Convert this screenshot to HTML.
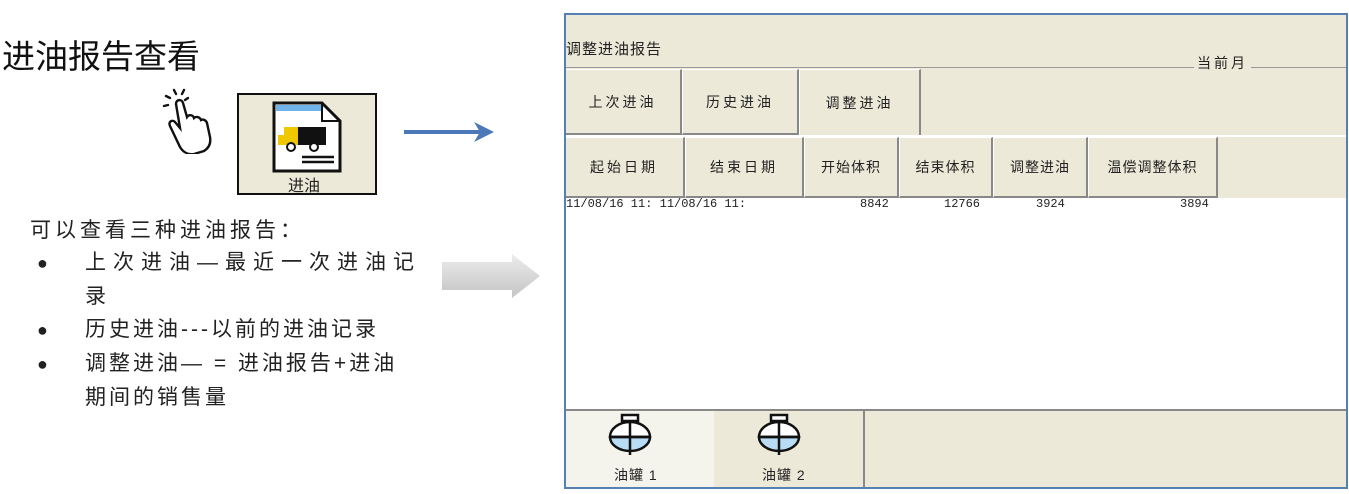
<!DOCTYPE html>
<html><head><meta charset="utf-8"><style>
body{margin:0;width:1349px;height:494px;background:#fff;position:relative;overflow:hidden;font-family:"Liberation Sans","Noto Sans CJK SC",sans-serif;}
.a{position:absolute;white-space:nowrap}
.scr{position:absolute;left:564px;top:13px;width:780px;height:472px;border:2px solid #5580b3;background:#ece9d8;overflow:hidden}
.btn{position:absolute;background:#ece9d8;border-left:1px solid #fff;border-top:1px solid #fff;border-right:2px solid #888;border-bottom:2px solid #888;box-sizing:border-box;font-size:14px;letter-spacing:3px;color:#222;display:flex;align-items:center;justify-content:center;font-family:"Liberation Sans","Noto Sans CJK SC",sans-serif}
.mono{font-family:"Liberation Mono",monospace;font-size:12px;color:#222}
.t{font-size:14px;color:#222;letter-spacing:1px}
</style></head><body>
<div class="a" style="left:2px;top:30px;font-size:33px;color:#111">进油报告查看</div>
<svg class="a" style="left:160px;top:86px" width="52" height="68" viewBox="0 0 52 68">
<g stroke="#111" stroke-width="2.4" fill="none" stroke-linecap="round">
<path d="M14 4l2 4M6 10l4 2M24 4l-2 4M4 20l4-1M28 12l-3 2"/>
<path d="M16 18c0-5 6-5 7-1l4 14c2-3 6-2 7 1 2-2 6-1 7 2 2-1 5 0 6 3l3 14c1 6-1 11-6 14l-10 3c-6 1-11-2-14-7L10 40c-2-4 2-7 5-4l5 6z"/>
</g></svg>
<div class="a" style="left:237px;top:93px;width:136px;height:98px;border:2px solid #111;background:#ece9d8"></div>
<svg class="a" style="left:272px;top:101px" width="70" height="72" viewBox="0 0 70 72">
<path d="M2 2h48l18 18v50H2z" fill="#fff" stroke="#111" stroke-width="3"/>
<rect x="4" y="4" width="46" height="6" fill="#6fb3e8"/>
<path d="M50 2v18h18" fill="none" stroke="#111" stroke-width="2"/>
<rect x="6" y="34" width="12" height="10" fill="#f0c800"/><rect x="12" y="26" width="14" height="18" fill="#f0c800"/>
<rect x="26" y="26" width="28" height="18" fill="#111"/>
<circle cx="19" cy="46" r="4" fill="#fff" stroke="#111" stroke-width="2"/><circle cx="42" cy="46" r="4" fill="#fff" stroke="#111" stroke-width="2"/>
<path d="M30 56h32M30 61h32" stroke="#111" stroke-width="2.5"/></svg>
<div class="a" style="left:288px;top:172px;font-size:16px;color:#222">进油</div>
<svg class="a" style="left:404px;top:122px" width="92" height="20"><path d="M0 10h76" stroke="#4a78b8" stroke-width="4"/><path d="M70 0l20 10-20 10 6-10z" fill="#4a78b8"/></svg>
<div class="a" style="left:30px;top:214px;font-size:21px;letter-spacing:4px;color:#222">可以查看三种进油报告：</div>
<div class="a" style="left:37px;top:246px;font-size:21px;color:#222;line-height:33px">
<div><span style="display:inline-block;width:48px;font-size:18px">●</span><span style="letter-spacing:7px">上次进油—最近一次进油记</span></div>
<div style="padding-left:48px">录</div>
<div><span style="display:inline-block;width:48px;font-size:18px">●</span><span style="letter-spacing:3px">历史进油---以前的进油记录</span></div>
<div><span style="display:inline-block;width:48px;font-size:18px">●</span><span style="letter-spacing:3px">调整进油— = 进油报告+进油</span></div>
<div style="padding-left:48px;letter-spacing:3px">期间的销售量</div></div>
<svg class="a" style="left:440px;top:252px" width="104" height="48"><defs><linearGradient id="g" x1="0" y1="0" x2="0" y2="1"><stop offset="0" stop-color="#ececec"/><stop offset="1" stop-color="#c4c4c4"/></linearGradient></defs><path d="M2 10h70V2l28 22-28 22v-8H2z" fill="url(#g)"/></svg>

<div class="scr">
<div class="a t" style="left:0;top:23px;font-size:15px">调整进油报告</div>
<div class="a" style="left:0;top:52px;width:628px;border-top:1px solid #999"></div>
<div class="a t" style="left:631px;top:38px;letter-spacing:3px">当前月</div>
<div class="a" style="left:685px;top:52px;width:120px;border-top:1px solid #999"></div>
<div class="btn" style="left:-2px;top:54px;width:118px;height:66px">上次进油</div>
<div class="btn" style="left:116px;top:54px;width:117px;height:66px">历史进油</div>
<div class="btn" style="left:233px;top:54px;width:122px;height:66px;border-bottom:none">调整进油</div>
<div class="a" style="left:0;top:120px;width:780px;border-top:2px solid #fff"></div>
<div class="btn" style="left:-2px;top:122px;width:121px;height:61px">起始日期</div>
<div class="btn" style="left:119px;top:122px;width:119px;height:61px">结束日期</div>
<div class="btn" style="left:238px;top:122px;width:95px;height:61px;letter-spacing:1px">开始体积</div>
<div class="btn" style="left:333px;top:122px;width:94px;height:61px;letter-spacing:1px">结束体积</div>
<div class="btn" style="left:427px;top:122px;width:95px;height:61px;letter-spacing:1px">调整进油</div>
<div class="btn" style="left:522px;top:122px;width:130px;height:61px;letter-spacing:1px">温偿调整体积</div>
<div class="a" style="left:0;top:183px;width:780px;height:211px;background:#fff;border-bottom:2px solid #888"></div>
<div class="a mono" style="left:0;top:182px">11/08/16 11: 11/08/16 11:</div>
<div class="a mono" style="left:294px;top:182px">8842</div>
<div class="a mono" style="left:378px;top:182px">12766</div>
<div class="a mono" style="left:470px;top:182px">3924</div>
<div class="a mono" style="left:614px;top:182px">3894</div>
<div class="a" style="left:0;top:396px;width:148px;height:80px;background:#f4f3ec"></div>
<div class="a" style="left:297px;top:396px;height:80px;border-left:2px solid #888"></div>
<svg class="a" style="left:38px;top:398px" width="52" height="48" viewBox="0 0 52 48"><rect x="18" y="2" width="16" height="6" fill="#fff" stroke="#111" stroke-width="2.5"/><path d="M6 24a20 15 0 0 1 40 0z" fill="#fff" stroke="#111" stroke-width="2.5"/><path d="M6 24a20 14 0 0 0 40 0z" fill="#b8dcf5" stroke="#111" stroke-width="2.5"/><path d="M26 8v34M6 24h40" stroke="#111" stroke-width="2.5"/></svg>
<svg class="a" style="left:187px;top:398px" width="52" height="48" viewBox="0 0 52 48"><rect x="18" y="2" width="16" height="6" fill="#fff" stroke="#111" stroke-width="2.5"/><path d="M6 24a20 15 0 0 1 40 0z" fill="#fff" stroke="#111" stroke-width="2.5"/><path d="M6 24a20 14 0 0 0 40 0z" fill="#b8dcf5" stroke="#111" stroke-width="2.5"/><path d="M26 8v34M6 24h40" stroke="#111" stroke-width="2.5"/></svg>
<div class="a t" style="left:48px;top:450px">油罐 1</div>
<div class="a t" style="left:196px;top:450px">油罐 2</div>
</div>
</body></html>
